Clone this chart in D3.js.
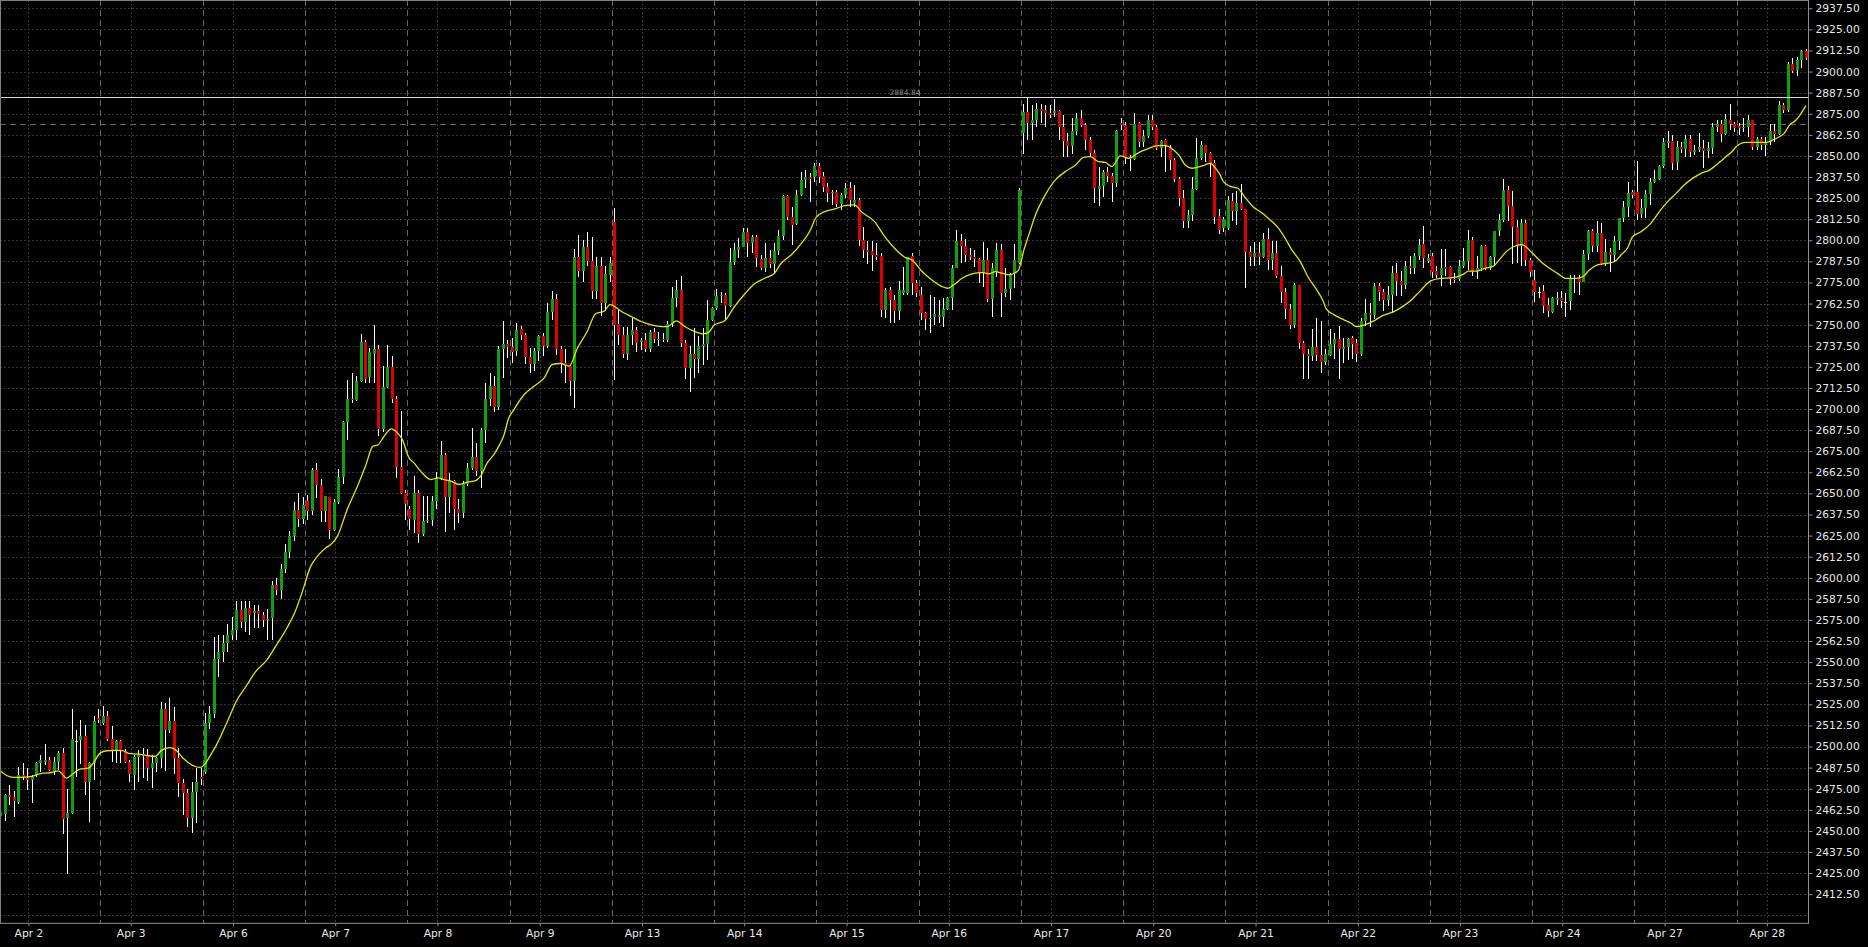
<!DOCTYPE html>
<html><head><meta charset="utf-8">
<script src="https://cdn.jsdelivr.net/npm/d3@7"></script>
<style>html,body{margin:0;padding:0;background:#000;overflow:hidden}svg{display:block}</style>
</head><body>
<script>
const dayLabels=["Apr 2","Apr 3","Apr 6","Apr 7","Apr 8","Apr 9","Apr 13","Apr 14","Apr 15","Apr 16","Apr 17","Apr 20","Apr 21","Apr 22","Apr 23","Apr 24","Apr 27","Apr 28"];
const openV=[
2459,2460,2471,2470,2467,2483,2481.5,2480,2483,2490.5,2491,2492,2485.5,2491,2496,2457.5,2460.5,2503.5,2504,2506,2479,2490,2517,
2514,2518,2504.5,2497.5,2503.5,2497.5,2491,2483,2493.5,2495.5,2494.5,2487,2490,2493,2522.5,2509.5,2515,2493,2478.5,2472.5,2457.5,2473,2482,
2485,2514,2519,2552,2556,2561.5,2566,2569,2581,2574,2582,2579,2580.5,2578,2575,2576,2596,2593,2605,2615,2625,2640,2635,
2645.8,2639.5,2663.6,2654.9,2639.5,2647.6,2628.2,2644.8,2660,2692.2,2706.2,2705.6,2716.5,2739.6,2718.9,2732.9,2735.3,2688.2,2713.1,2725.2,2706.2,2665.5,2650.3,
2640.5,2634.5,2650.3,2625.7,2633.5,2634.5,2645.8,2658.6,2672.5,2647.8,2657.2,2640.9,2638.5,2655.7,2664.8,2671.5,2663,2687.5,2706.2,2713.9,2701.3,2735.8,2738.8,
2737,2734.3,2747.5,2743.7,2730.9,2726.8,2734.3,2743.5,2737.2,2757.8,2765,2735.8,2727.3,2725.4,2716.5,2790,2782,2796,2788,2770,2785,2763,2779.5,
2811.1,2750.3,2744,2732.9,2744,2746.9,2740,2741,2735.5,2745.5,2741.2,2741.8,2741,2750.3,2766.1,2770.6,2739,2724.6,2732.5,2729.9,2737.4,2738.6,2752.9,
2759.8,2767.1,2767.7,2761.3,2787.2,2794.3,2796.3,2805.2,2798.3,2801.8,2789,2783.8,2789.8,2786,2793.7,2802.6,2826.3,2813.7,2809.5,2826.9,2835.8,2837.4,2837.4,
2844.1,2838.2,2831.8,2827.9,2828.9,2821.6,2826.9,2830.9,2822.4,2823.9,2800.2,2794.3,2793.7,2791.4,2790.8,2758.8,2770.6,2764.7,2758.4,2768.6,2768.6,2790.8,2774.5,
2767.6,2756.8,2753.2,2754.8,2754.4,2754.4,2759.1,2765.7,2783.8,2799.6,2796.9,2791.3,2789.9,2789,2780.5,2788.4,2765.1,2781.5,2794.3,2769,2771,2779.9,2786.8,
2863.4,2876.2,2869.7,2871.3,2877.6,2877.2,2875.3,2875.6,2876.6,2867.4,2858.9,2856.1,2864.8,2872.7,2868.3,2859.5,2852,2830.4,2832.2,2840.3,2838.1,2833.8,2869.3,
2868.3,2849.6,2848.4,2869.3,2858.5,2861.8,2871.3,2867.4,2854.5,2859.5,2855.5,2847.6,2836.4,2824.9,2811.5,2815,2830.2,2848.6,2856.3,2851.6,2845.6,2814.3,2807.4,
2807.4,2823.2,2817.3,2822.2,2818.3,2793,2790.2,2792.6,2790.2,2800.9,2788.2,2792.6,2778.8,2769.3,2759.4,2750.1,2773.4,2738.9,2732.4,2731.4,2736.9,2731.8,2727.8,
2732,2738.7,2741.8,2735.3,2736.9,2742.2,2738.9,2732.4,2752.1,2756.7,2755.9,2772.9,2769.3,2764.4,2767.3,2780.7,2775.8,2773.8,2784.7,2783.7,2790.6,2798.1,2787.7,
2790.6,2781.7,2779.2,2783.9,2784.1,2777.2,2777.2,2784.7,2788,2800.1,2781.7,2783.7,2796.9,2783.7,2790,2805.4,2812.3,2830.1,2820.6,2808,2796.5,2810.4,2788.2,
2776.5,2769.5,2769.9,2761.7,2757.7,2764.6,2765.6,2763.6,2764.2,2776.9,2777.5,2775.5,2791.9,2805.5,2796.8,2804.1,2785.7,2792.9,2791.3,2799.6,2813,2819.9,2828.8,
2828.4,2815.4,2818.9,2827.2,2834.3,2836.3,2844,2857.8,2858.8,2846.6,2855.3,2854.1,2860,2852.5,2853.7,2854.5,2853.1,2854.5,2867.3,2868.7,2863,2871.2,2868.7,
2867.9,2866.3,2867.3,2871.3,2855.5,2860,2856.4,2858.4,2864.7,2863,2880.1,2877.2,2904.2,2900.9,2906.8,2912.3];
const highV=[
2463,2472,2477,2473.5,2488,2490,2487.5,2483,2491,2495,2501.5,2494,2494,2497.5,2499,2475,2522.5,2509.5,2516,2513,2491,2518,2522,
2524,2521,2512,2504,2504,2498.6,2492,2495,2498,2499.4,2498.5,2495,2494,2526.5,2525.5,2529,2523.5,2499,2481,2475,2479,2487.5,2487.5,
2520,2524,2565,2566,2566,2572.5,2577,2586,2586,2586,2586,2584,2584,2580,2581.6,2598,2600,2608,2620,2628,2645,2650,2648,
2649.3,2665.1,2668.1,2658.8,2648.5,2648,2646.4,2664.2,2692.8,2717.5,2721.4,2719.5,2744.7,2741.2,2736.2,2750.1,2737.8,2725.4,2738.2,2731.3,2707.6,2699.1,2652.3,
2642.4,2660.2,2652.3,2648.4,2648.4,2648.4,2662.6,2681,2674,2662.2,2658.2,2646.4,2657.2,2668.1,2688.6,2680,2688.6,2715.5,2721.4,2719.5,2737.2,2752.4,2741,
2742.2,2751.1,2749.5,2745.1,2736.2,2736.2,2744.1,2745.1,2762.9,2770,2768,2737.2,2735.3,2726.4,2795,2803,2800,2805,2802,2790,2790,2785,2790,
2819,2758.8,2748.9,2748.9,2753.8,2748.9,2742,2744.9,2746.9,2747.9,2745.9,2744.9,2751.9,2772.6,2776.5,2778.9,2741,2737.1,2747.9,2743,2747.9,2764.7,2760.7,
2771,2769.6,2768.6,2795.3,2798.3,2801.2,2807.2,2807.2,2803.2,2803.2,2791.4,2798.3,2794.3,2798.7,2806.2,2826.9,2826.9,2820,2829.9,2840.7,2841.7,2839.7,2846.1,
2845.7,2840.7,2833.8,2829.9,2829.9,2827.9,2833.8,2834.8,2832.8,2824.9,2807.7,2799.3,2799.3,2798.7,2792.3,2771.6,2772.6,2767.7,2775.6,2784.4,2790.4,2792.3,2776.5,
2772.6,2757.8,2767.6,2766.6,2764.7,2765.7,2766.6,2785.4,2806.1,2803.8,2800.6,2795.3,2794.3,2789.4,2799.2,2795.3,2786.8,2798.2,2797.6,2783.4,2780.5,2797.8,2830.8,
2880.8,2884.7,2880.2,2881.6,2880.8,2880.2,2880.2,2883.7,2877.2,2874.3,2863.4,2872.7,2875.3,2877.2,2869.3,2861.4,2853.5,2843.7,2841.7,2843.7,2839.7,2865.4,2872.3,
2870,2850.6,2875.3,2870.3,2865.4,2874.3,2874.3,2868.3,2859.5,2859.9,2856.5,2848.6,2837.7,2829.8,2818,2837.7,2860.4,2858.9,2856.5,2852.5,2847.6,2818.3,2814,
2826.2,2828.1,2829.1,2833.1,2818.7,2796.5,2798.9,2798.9,2804.4,2807.4,2799.5,2799.5,2784.7,2771.9,2762,2774.8,2773.8,2740.3,2735.3,2747.2,2754.1,2752.1,2735.3,
2747.6,2745.2,2749.2,2742.2,2742.2,2743.2,2741.3,2754.1,2765.3,2763,2774.8,2774.8,2770.9,2772.9,2784.7,2786.7,2781.7,2787.7,2790.6,2792.6,2800.5,2808.4,2791.6,
2792.6,2784.7,2794.6,2794.6,2784.7,2780.7,2788.6,2795.6,2806,2802.1,2790.6,2797.5,2797.5,2790.6,2805.8,2815.3,2836.4,2832.1,2829.1,2812.3,2812.7,2812.3,2789.6,
2782.4,2772.5,2773.5,2766,2766.6,2769.1,2769.9,2768.6,2779.4,2779.4,2779.4,2794.2,2806.1,2806.7,2811.4,2810,2800.8,2795.2,2802.5,2813.4,2823.3,2834.7,2829.8,
2847,2824.4,2829.8,2836.7,2841.6,2844.6,2860.4,2864.7,2862.4,2858.8,2858.4,2862.4,2862.4,2856.4,2863.7,2859.4,2858.4,2869.3,2871.3,2871.3,2874.6,2880.7,2870.3,
2869.3,2872.2,2874.2,2871.5,2861.4,2861.4,2861.4,2868.7,2868.7,2882.5,2881.1,2905.8,2907.8,2908.8,2912.7,2913.3];
const lowV=[
2457,2456,2465.5,2458,2466,2480,2474.5,2466.5,2482,2485,2489,2485.5,2483,2486,2448,2424.5,2460,2482,2489.5,2471,2455.5,2480,2514,
2513,2503,2491,2490,2490,2490,2479,2474,2479,2481.6,2479.3,2475.7,2485,2487.5,2485.5,2508,2484,2470,2459.5,2452.5,2448.5,2454.5,2477,
2484,2510.5,2517,2541,2550,2556,2563,2563,2570,2568,2566,2570.5,2570.5,2571,2563.2,2563,2590,2587.5,2603,2612,2622,2630,2632,
2634.5,2637.5,2647.4,2633,2633,2623.1,2627.5,2644,2655.3,2681.9,2703.3,2705,2716,2715.5,2715.5,2715.5,2683.9,2686.3,2712.5,2703.7,2659.2,2649.5,2634.5,
2628.6,2626.6,2620.7,2624.7,2632.6,2630.6,2640.5,2658,2627.2,2638.5,2628.6,2632.6,2635.5,2654.3,2663.6,2660.2,2653.3,2680,2701.7,2698.1,2699.7,2718.5,2730,
2727.3,2731.3,2741.2,2726.8,2721.4,2722.4,2728.3,2731.3,2736.2,2753,2732.3,2721.4,2715.5,2707.6,2700.7,2778,2775,2785,2765,2765,2755,2758,2775,
2717.3,2738,2730.1,2729.2,2738,2734.1,2734.7,2734.1,2734.1,2739,2737.1,2740,2740,2748.9,2760.7,2736.7,2717.7,2710.4,2718.3,2721.2,2726.2,2729.2,2752,
2758.8,2762.7,2752.9,2760.7,2785.4,2789.4,2795.8,2790.4,2792.3,2784.4,2782.5,2781.5,2783.4,2780.5,2791.4,2800.2,2812.1,2797.3,2809,2826.3,2830.9,2822.9,2834.8,
2833.8,2828.9,2822.9,2821,2820,2818,2824.9,2820,2820,2796.7,2789.4,2786,2782.1,2788.4,2754.8,2753.8,2750.9,2750.9,2752.9,2767.7,2767.7,2767.7,2766.6,
2752.8,2746.9,2745.3,2749.9,2750.8,2748.5,2758.8,2758.7,2783.4,2786.4,2787.4,2788.4,2784.4,2774.5,2772.6,2763.3,2754.4,2778.5,2754.8,2766.6,2764.7,2771.6,2786,
2851.2,2859.5,2859.5,2867.4,2869.3,2867.4,2872.3,2873.3,2859.5,2849.6,2849.6,2851.2,2862.4,2867.4,2853.5,2849.6,2822.3,2820.4,2825.9,2834.4,2822.9,2831.8,2865.4,
2845,2841.3,2847.6,2855.5,2855.5,2860.4,2865.4,2853.5,2849.6,2840.7,2841.7,2834.8,2820.4,2807.5,2807.5,2811.7,2829.8,2847.6,2846.6,2837.7,2809.7,2803.5,2805,
2806.4,2811.4,2808.8,2818,2771.9,2784.7,2784.7,2785.1,2789.6,2782.7,2782.7,2777.8,2763,2753.1,2747.2,2748.2,2735.3,2717.6,2717.6,2728.4,2728.4,2721.5,2726.4,
2731.4,2729.8,2717.6,2727.4,2729,2729.4,2727.8,2731.4,2749.2,2748.8,2753.1,2764,2758,2761,2757,2766.9,2766.9,2770.9,2779.8,2779.8,2788.6,2783.7,2786.3,
2777.8,2777.8,2772.9,2778.8,2773.8,2774.8,2775.8,2783.7,2782.7,2778.8,2776.8,2781.7,2782.7,2782.7,2784.7,2802.5,2811,2811.4,2785.7,2786.3,2784.7,2784.7,2778.4,
2763.6,2765.6,2756.7,2754.7,2756.7,2761.7,2759.7,2754.7,2758.7,2768.6,2767.6,2775,2788.3,2793.3,2793.3,2785.3,2785,2781.4,2786.9,2794.2,2811,2814,2824.9,
2812,2813.4,2813,2820.9,2834,2835.8,2842.6,2854.5,2841.6,2841.6,2851.5,2849.5,2849.5,2850.5,2852.5,2843,2848.5,2851.3,2864.3,2858.4,2862.5,2865.3,2864.3,
2862.4,2864.3,2861.4,2853.5,2853.5,2853.5,2850.1,2856.4,2858.4,2862.4,2875.2,2876.2,2898.9,2897.5,2902.3,2906.8];
const closeV=[
2461,2471,2470,2467.5,2483,2482,2480,2482,2490,2492,2492,2486,2491,2496,2457,2460.5,2504.5,2503.5,2506,2479,2490,2515,2516,
2518,2504.5,2497.5,2503.5,2497.5,2491,2484,2493.5,2495.5,2494.5,2487,2490,2493,2522.5,2509.5,2515,2493,2478.5,2472.5,2457.5,2473,2479,2480.5,
2514,2519,2552,2556,2561.5,2566,2569,2581,2574,2582,2578,2580.5,2578.8,2575,2575.6,2596,2592.8,2605,2615,2625,2640,2635,2643,
2639.5,2663.6,2654.9,2639.5,2648.2,2628.2,2644.8,2660,2692.2,2706.2,2705.2,2716.5,2739.6,2717.9,2733.7,2735.3,2688.2,2713.1,2725.2,2706.2,2665.5,2650.3,2644,
2634.9,2650.3,2625.7,2633.5,2634.5,2645.8,2658.6,2672.5,2647.8,2657.2,2640.9,2638.5,2655.7,2664.8,2671.5,2663,2687.5,2706.2,2713.9,2701.3,2735.8,2738.8,2737,
2733.7,2747.1,2743.7,2730.9,2726.8,2734.3,2743.1,2737.2,2757.8,2765,2735.8,2727.3,2725.4,2716.5,2790,2782,2796,2788,2770,2785,2763,2780,2786.4,
2749.9,2744,2732.9,2744,2746.9,2739,2741,2735.5,2745.5,2741.4,2741.8,2740.7,2750.3,2766.1,2770.6,2739,2724.6,2732.5,2729.9,2737.4,2738.6,2752.9,2759.8,
2767.1,2767.7,2761.3,2787.2,2794.3,2796.3,2805.2,2798.3,2801.8,2789.8,2783.8,2789.8,2786,2793.7,2802.6,2826.3,2813.7,2809.1,2826.9,2835.8,2837.4,2836.2,2844.1,
2837.8,2831.8,2827.9,2828.9,2821.6,2826.9,2830.9,2823.9,2823.9,2800.2,2794.3,2793.3,2791.4,2790,2758.8,2770.6,2764.7,2758.4,2770.6,2770.6,2790,2774.9,2768.6,
2756.8,2753.2,2753.8,2756.2,2755.8,2759.1,2765.7,2783.8,2799.6,2796.9,2791.3,2789.9,2789.4,2780.5,2788.4,2765.3,2783.4,2794.3,2769,2771,2779.9,2788.4,2829.8,
2876.2,2869.3,2871.3,2877.6,2876.6,2875.3,2874.5,2876.6,2867.4,2858.9,2856.1,2864.8,2872.7,2868.3,2859.5,2852,2831.2,2832.2,2840.3,2838.1,2834.2,2864.8,2868.3,
2849.6,2848,2868.9,2858.5,2861.8,2871.3,2867.4,2854.5,2858.9,2855.9,2847.6,2836.4,2824.9,2811.5,2815,2830.2,2848.6,2856.3,2851.6,2845.6,2814,2806.4,2812.4,
2823.6,2817.3,2822.2,2818.3,2793,2790.2,2792.6,2790.2,2800.9,2788.2,2792.6,2778.8,2769.3,2759.4,2750.1,2773.8,2738.9,2732.9,2731.4,2736.9,2731.8,2727.8,2732.4,
2738.7,2741.8,2735.3,2736.9,2741.8,2738.3,2732.4,2752.1,2756.7,2755.9,2772.9,2769.3,2764.4,2767.3,2780.7,2775.8,2773.4,2784.7,2783.7,2790.6,2797.5,2789.6,2789.6,
2781.1,2779.2,2783.7,2783.1,2777.2,2776.4,2784.7,2788,2800.1,2781.1,2783.7,2796.5,2783.7,2790,2805.4,2812.3,2830.1,2820.6,2808,2796.5,2810.4,2788.2,2781,
2769.5,2769.5,2761.3,2758.1,2765.6,2765.6,2764.2,2763.6,2776.9,2777.5,2775.5,2791.9,2805.5,2796.8,2804.1,2785.7,2792.9,2791.3,2799.6,2813,2819.9,2828.2,2826.8,
2815.4,2818.9,2827.2,2834.3,2836.3,2844,2858.4,2858.8,2846,2855.3,2854.1,2860,2852.5,2853.7,2855.3,2853.1,2854.5,2867.3,2868.7,2863,2871.8,2868.7,2866.7,
2866.3,2867.3,2871.3,2855.5,2860,2856.4,2858.4,2864.7,2863,2880.1,2877.2,2904.2,2900.5,2906.8,2912.3,2908.2];
// moving average line at these bar positions
const maPos=[-0.1,1.4,2.9,4.4,7.0,8.3,9.6,11.5,13.0,14.9,16.2,17.9,19.8,20.9,22.4,23.9,26.1,27.5,28.8,31.0,32.8,34.8,36.2,38.1,39.4,41.1,42.6,44.9,46.0,47.3,48.6,50.9,53.1,55.4,57.3,59.9,62.1,64.4,66.3,67.8,
69.8,71.3,73.2,74.3,75.8,78.0,80.3,82.1,83.8,84.8,86.3,87.9,89.3,90.4,91.9,93.0,94.5,96.8,98.3,99.8,101.3,103.2,105.0,106.9,108.0,109.5,111.0,112.1,113.3,114.2,115.5,117.8,120.0,122.3,124.1,126.0,127.9,129.8,132.0,133.9,135.8,137.1,
139.7,141.9,144.1,146.4,148.7,150.1,152.0,153.9,156.2,158.0,159.2,160.6,162.9,165.1,167.4,169.6,171.9,174.1,175.6,177.9,180.2,182.0,183.5,185.4,187.7,189.9,192.1,193.6,196.6,198.9,201.1,203.4,205.0,
207.3,209.5,211.8,213.1,214.4,216.3,218.5,220.8,222.3,223.8,225.3,226.8,228.3,229.0,230.2,231.3,232.8,235.0,237.3,239.5,241.8,243.6,245.1,247.0,248.5,250.0,251.9,253.8,256.0,258.3,260.2,262.0,263.9,265.0,266.5,268.0,270.3,272.1,273.6,
274.3,275.0,276.5,278.4,279.6,281.8,283.7,285.5,287.4,288.9,290.4,292.3,294.2,296.0,297.5,298.2,299.8,302.0,303.9,305.0,306.5,308.8,311.0,313.3,315.5,317.0,319.3,321.6,323.8,326.0,327.6,329.0,330.2,332.0,333.5,335.8,337.3,338.8,340.3,342.2,
344.6,346.5,348.4,350.2,352.0,354.4,355.9,357.4,359.2,361.1,363.0,364.5,366.0,367.1,369.0,371.2,373.1,375.0,376.9,378.7,380.6,382.5,384.4,385.9,388.1,389.8,390.4,392.6,395.6,397.1,398.6,400.1,401.2,402.4,403.9,405.0,406.1];
const maVal=[2485.8,2482.8,2481.7,2481.7,2482.3,2483.4,2484.2,2484.6,2485.6,2481.3,2483.6,2486.6,2487.2,2490.2,2496.1,2497.5,2497.7,2497.6,2496.0,2495.5,2494.8,2494.1,2497.7,2499.4,2498.0,2493.1,2489.8,2487.6,2489.6,2495.1,2501.0,2514.0,2527.0,2536.3,2544.1,2551.2,2560.2,2570.1,2580.0,2591.0,
2606.9,2612.8,2617.8,2619.7,2624.7,2640.5,2654.3,2666.1,2678.0,2678.6,2683.9,2688.3,2685.9,2681.9,2671.1,2668.1,2663.2,2658.2,2659.2,2658.2,2657.3,2655.3,2656.7,2657.6,2660.2,2668.1,2673.1,2678.0,2684.9,2693.8,2699.7,2708.6,2713.5,2718.5,2726.4,2727.0,2725.4,2736.2,2746.1,2756.6,2758.0,2761.9,
2757.8,2754.8,2751.9,2749.9,2748.9,2748.9,2752.3,2748.9,2745.9,2744.6,2745.3,2749.9,2752.3,2760.7,2768.2,2774.2,2777.5,2780.5,2786.4,2791.4,2798.3,2805.2,2813.7,2817.0,2818.6,2820.6,2821.0,2817.0,2811.1,2802.2,2795.3,2790.0,2788.4,
2781.5,2776.5,2772.6,2771.6,2773.6,2777.5,2780.1,2780.9,2780.1,2781.5,2780.5,2779.5,2780.9,2782.4,2794.3,2803.2,2815.0,2826.9,2835.8,2840.7,2844.6,2849.2,2849.6,2846.6,2846.2,2843.7,2850.0,2848.6,2852.0,2854.5,2856.1,2856.1,2853.5,2850.6,2844.6,2842.7,2844.1,2845.6,2841.7,
2839.0,2835.0,2832.1,2830.7,2826.6,2819.8,2816.3,2812.3,2807.4,2801.5,2794.6,2787.7,2777.8,2770.9,2764.0,2759.4,2756.1,2753.1,2750.7,2748.8,2749.6,2752.1,2755.5,2757.6,2761.0,2763.9,2769.9,2775.8,2777.4,2777.8,2778.4,2779.8,2781.7,2781.7,2783.1,2784.7,2789.0,2793.6,2796.2,2797.5,
2792.3,2787.3,2783.4,2780.4,2777.5,2777.5,2778.4,2782.4,2785.4,2786.3,2787.3,2791.3,2795.6,2802.1,2805.1,2810.0,2816.9,2822.9,2827.8,2832.8,2836.7,2839.7,2841.6,2844.6,2849.5,2853.5,2855.5,2858.0,2858.0,2858.0,2859.4,2861.4,2863.4,2868.3,2871.3,2875.2,2879.8];
const priceTicks=d3.range(2412.5,2937.6,12.5);
const gridPrices=d3.range(2400,2937.6,12.5);
const markLine=2884.84;
const dashLevel=2868.75;
const barsPerDay=23;

const W=1868,H=947,PR=1808,PB=923.3;
const svg=d3.select("body").append("svg").attr("width",W).attr("height",H).style("background","#000");
const n=openV.length;
const x=d3.scaleLinear().domain([-0.101,406.56]).range([0,PR]);
const y=d3.scaleLinear().domain([2400,2937.5]).range([915.26,8.3]);
const font="'DejaVu Sans', Verdana, sans-serif";
const g=svg.append("g");
g.append("clipPath").attr("id","plot").append("rect").attr("x",0).attr("y",0).attr("width",PR).attr("height",PB);
// horizontal dotted grid
g.append("g").selectAll("line").data(gridPrices).join("line")
 .attr("x1",0).attr("x2",PR).attr("y1",d=>Math.round(y(d))+0.5).attr("y2",d=>Math.round(y(d))+0.5)
 .attr("stroke","#363636").attr("stroke-dasharray","2,2");
// vertical dotted grid at date ticks
const tickIdx=dayLabels.map((d,k)=>k*barsPerDay+6.3);
g.append("g").selectAll("line").data(tickIdx).join("line")
 .attr("x1",d=>Math.round(x(d))+0.5).attr("x2",d=>Math.round(x(d))+0.5).attr("y1",0).attr("y2",PB)
 .attr("stroke","#363636").attr("stroke-dasharray","2,2");
// day separators (dashed)
const sepIdx=dayLabels.slice(1).map((d,k)=>(k+1)*barsPerDay-0.5);
g.append("g").selectAll("line").data(sepIdx).join("line")
 .attr("x1",d=>Math.round(x(d))+0.5).attr("x2",d=>Math.round(x(d))+0.5).attr("y1",0).attr("y2",PB)
 .attr("stroke","#666666").attr("stroke-dasharray","6,4");
// dashed level
g.append("line").attr("x1",0).attr("x2",PR).attr("y1",Math.round(y(dashLevel))+0.5).attr("y2",Math.round(y(dashLevel))+0.5)
 .attr("stroke","#666666").attr("stroke-dasharray","6,4");
// candles
const cg=g.append("g").attr("clip-path","url(#plot)").attr("shape-rendering","crispEdges");
const idx=d3.range(n);
cg.selectAll("line.w").data(idx).join("line").attr("class","w")
 .attr("x1",i=>Math.round(x(i))+0.5).attr("x2",i=>Math.round(x(i))+0.5)
 .attr("y1",i=>y(highV[i])).attr("y2",i=>y(lowV[i])).attr("stroke","#ffffff").attr("stroke-width",1);
cg.selectAll("rect.b").data(idx).join("rect").attr("class","b")
 .attr("x",i=>Math.round(x(i))-1).attr("width",3)
 .attr("y",i=>y(Math.max(openV[i],closeV[i])))
 .attr("height",i=>Math.max(1.2,Math.abs(y(openV[i])-y(closeV[i]))))
 .attr("fill",i=>closeV[i]>openV[i]?"#0fa00f":(closeV[i]<openV[i]?"#dd0000":"#e8e800"));
// moving average
const maLine=d3.line().x((d,k)=>x(maPos[k])).y(d=>y(d)).curve(d3.curveMonotoneX);
g.append("path").attr("clip-path","url(#plot)").attr("d",maLine(maVal)).attr("fill","none").attr("stroke","#e6e600").attr("stroke-width",1.3);
// mark line
g.append("line").attr("x1",0).attr("x2",PR).attr("y1",Math.round(y(markLine))+0.5).attr("y2",Math.round(y(markLine))+0.5)
 .attr("stroke","#d8d8d8").attr("stroke-width",1);
g.append("text").attr("x",905).attr("y",Math.round(y(markLine))-2).attr("text-anchor","middle")
 .attr("font-family",font).attr("font-size",7.5).attr("fill","#8a8a8a").text(markLine.toFixed(2));
// frame
g.append("line").attr("x1",0.5).attr("x2",0.5).attr("y1",0).attr("y2",PB).attr("stroke","#808080");
g.append("line").attr("x1",0).attr("x2",PR).attr("y1",0.5).attr("y2",0.5).attr("stroke","#808080");
// right axis
const ya=d3.axisRight(y).tickValues(priceTicks).tickFormat(d3.format(".2f")).tickSize(4).tickPadding(3);
const yg=svg.append("g").attr("transform",`translate(${PR+0.5},0)`).call(ya);
yg.select(".domain").remove();
yg.selectAll("line").attr("stroke","#909090");
yg.selectAll("text").attr("fill","#e8e8e8").attr("font-family",font).attr("font-size",10.7);
svg.append("line").attr("x1",PR+0.5).attr("x2",PR+0.5).attr("y1",0).attr("y2",PB+0.5).attr("stroke","#909090");
// bottom axis
const xa=d3.axisBottom(x).tickValues(tickIdx).tickFormat((d,k)=>dayLabels[k]).tickSize(3).tickPadding(3);
const xg=svg.append("g").attr("transform",`translate(0,${PB})`).call(xa);
xg.select(".domain").remove();
xg.selectAll("line").attr("stroke","#909090");
xg.selectAll("text").attr("fill","#e8e8e8").attr("font-family",font).attr("font-size",10.7);
svg.append("line").attr("x1",0).attr("x2",PR+0.5).attr("y1",PB).attr("y2",PB).attr("stroke","#909090");
</script>
</body></html>
